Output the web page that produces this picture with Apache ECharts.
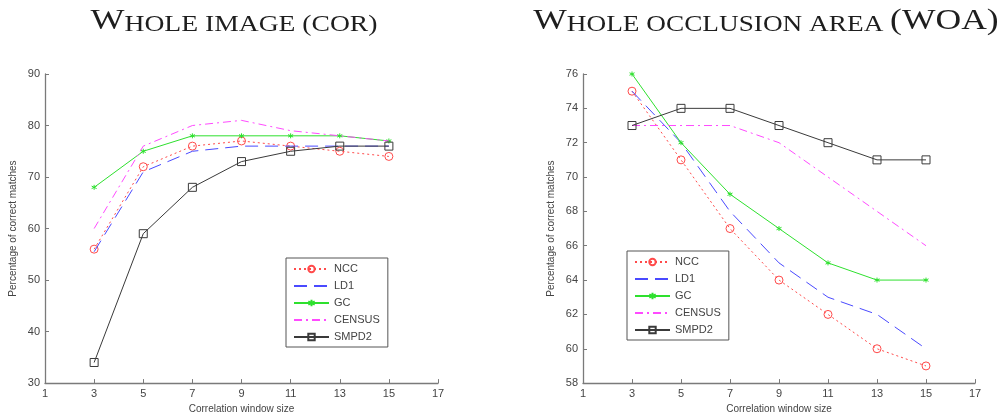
<!DOCTYPE html>
<html>
<head>
<meta charset="utf-8">
<script src="https://cdn.jsdelivr.net/npm/echarts@6/dist/echarts.min.js"></script>
<style>
html,body{margin:0;padding:0;background:#fff;}
#c{width:1002px;height:419px;}
</style>
</head>
<body>
<div id="c"></div>
<script>
const windows = [3, 5, 7, 9, 11, 13, 15];
const seriesNames = ['NCC', 'LD1', 'GC', 'CENSUS', 'SMPD2'];

const corNCC    = [56, 72, 76, 77, 76, 75, 74];
const corLD1    = [55.5, 71, 75, 76, 76, 76, 76];
const corGC     = [68, 75, 78, 78, 78, 78, 77];
const corCENSUS = [60, 76, 80, 81, 79, 78, 77];
const corSMPD2  = [34, 59, 68, 73, 75, 76, 76];

const woaNCC    = [75, 71, 67, 64, 62, 60, 59];
const woaLD1    = [75, 72, 68, 65, 63, 62, 60];
const woaGC     = [76, 72, 69, 67, 65, 64, 64];
const woaCENSUS = [73, 73, 73, 72, 70, 68, 66];
const woaSMPD2  = [73, 74, 74, 73, 72, 71, 71];

const corData = [corNCC, corLD1, corGC, corCENSUS, corSMPD2];
const woaData = [woaNCC, woaLD1, woaGC, woaCENSUS, woaSMPD2];

const styles = {
  NCC:    {color: '#ff4a4a', type: [2, 3], symbol: 'circle', size: 8, mark: true},
  LD1:    {color: '#4a4aff', type: [13, 7], symbol: 'circle', size: 1, mark: false},
  GC:     {color: '#2ee02e', type: 'solid', symbol: 'path://M5,0L5,10M0.67,2.5L9.33,7.5M0.67,7.5L9.33,2.5', size: 5, mark: true},
  CENSUS: {color: '#ff4aff', type: [8, 4, 2, 4], symbol: 'circle', size: 1, mark: false},
  SMPD2:  {color: '#3a3a3a', type: 'solid', symbol: 'rect', size: 8, mark: true}
};

function pairs(vals) { return windows.map((w, i) => [w, vals[i]]); }

function makeSeries(dataSet, idx) {
  return seriesNames.map((n, k) => {
    const s = styles[n];
    return {
      name: n,
      type: 'line',
      xAxisIndex: idx,
      yAxisIndex: idx,
      data: pairs(dataSet[k]),
      symbol: s.symbol,
      symbolSize: s.size,
      showSymbol: s.mark,
      color: s.color,
      lineStyle: {color: s.color, width: 1, type: s.type},
      itemStyle: {
        color: 'rgba(255,255,255,0)',
        borderColor: s.mark ? s.color : 'rgba(255,255,255,0)',
        borderWidth: s.mark ? 1 : 0
      },
      emphasis: {disabled: true},
      animation: false,
      z: 2 + k
    };
  });
}

const axisFont = {fontFamily: 'Liberation Sans', fontSize: 11, color: '#444'};
const axisLine = {show: true, lineStyle: {color: '#7a7a7a', width: 1.3}};

function xAxis(idx) {
  return {
    type: 'value', gridIndex: idx, min: 1, max: 17, interval: 2,
    axisLine: axisLine,
    axisTick: {show: true, inside: true, length: 4, lineStyle: {color: '#7a7a7a'}},
    axisLabel: Object.assign({margin: 5}, axisFont),
    splitLine: {show: false},
    name: 'Correlation window size', nameLocation: 'middle', nameGap: 20,
    nameTextStyle: {fontFamily: 'Liberation Sans', fontSize: 10, color: '#444'}
  };
}
function yAxis(idx, min, max, interval) {
  return {
    type: 'value', gridIndex: idx, min: min, max: max, interval: interval,
    axisLine: axisLine,
    axisTick: {show: true, inside: true, length: 4, lineStyle: {color: '#7a7a7a'}},
    axisLabel: Object.assign({margin: 5}, axisFont),
    splitLine: {show: false},
    name: 'Percentage of correct matches', nameLocation: 'middle', nameGap: 27,
    nameTextStyle: {fontFamily: 'Liberation Sans', fontSize: 10, color: '#444'}
  };
}

function legend(left, top) {
  return {
    data: seriesNames, orient: 'vertical', left: left, top: top,
    borderColor: '#555', borderWidth: 1, borderRadius: 0,
    padding: [5, 8, 4, 7], itemWidth: 35, itemHeight: 8, itemGap: 5,
    backgroundColor: '#fff',
    textStyle: {fontFamily: 'Liberation Sans', fontSize: 11, color: '#444', lineHeight: 12},
    selectedMode: false
  };
}

function title(x, sx, text) {
  return {
    type: 'text', x: x, y: 20, scaleX: sx, originX: 0,
    style: {text: text, align: 'center', verticalAlign: 'middle', rich: titleRich}
  };
}
const titleRich = {
  a: {fontFamily: 'Liberation Serif', fontSize: 30, fill: '#1e1e1e', verticalAlign: 'bottom', lineHeight: 32},
  b: {fontFamily: 'Liberation Serif', fontSize: 23, fill: '#1e1e1e', verticalAlign: 'bottom', lineHeight: 32}
};

const chart = echarts.init(document.getElementById('c'));
chart.setOption({
  backgroundColor: '#fff',
  animation: false,
  grid: [
    {left: 45, top: 74, width: 393, height: 311},
    {left: 583, top: 74, width: 392, height: 311}
  ],
  xAxis: [xAxis(0), xAxis(1)],
  yAxis: [yAxis(0, 30, 90, 10), yAxis(1, 58, 76, 2)],
  legend: [legend(286, 258), legend(627, 251)],
  graphic: [
    title(234, 1.2, '{a|W}{b|HOLE IMAGE (COR)}'),
    title(766, 1.185, '{a|W}{b|HOLE OCCLUSION AREA }{a|(WOA)}')
  ],
  series: makeSeries(corData, 0).concat(makeSeries(woaData, 1))
});
</script>
</body>
</html>
